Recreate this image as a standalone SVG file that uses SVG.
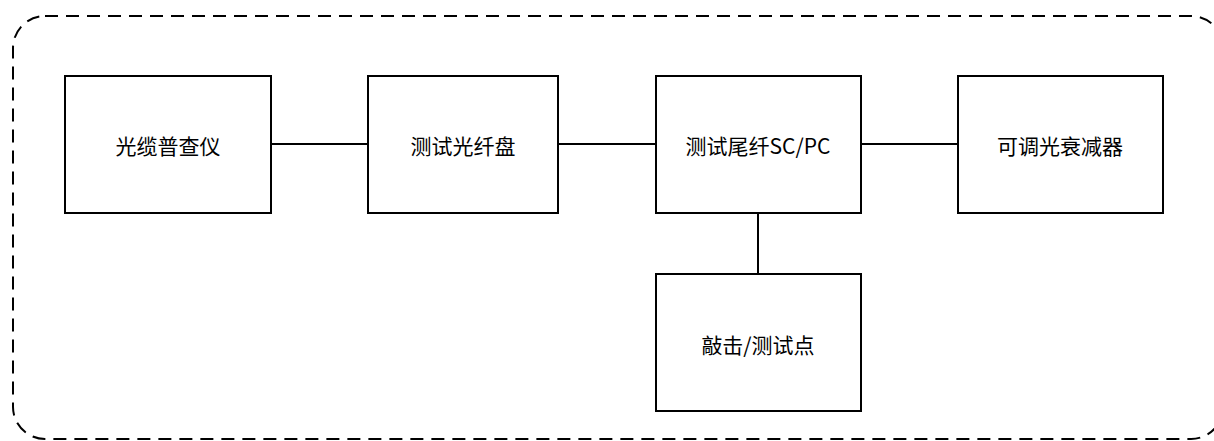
<svg xmlns="http://www.w3.org/2000/svg" width="1214" height="441" viewBox="0 0 1214 441">
<style>
.box{fill:#fff;stroke:#000;stroke-width:2}
.lbl{font-family:"Noto Sans CJK SC","Noto Sans",sans-serif;font-size:21px;fill:#000;text-anchor:middle;dominant-baseline:central}
.conn{stroke:#000;stroke-width:2;fill:none}
.frame{fill:none;stroke:#000;stroke-width:2;stroke-dasharray:13 8}
</style>
<rect width="1214" height="441" fill="#fff"/>
<rect id="frame" class="frame" x="13" y="16" width="1210" height="423" rx="32" ry="32"/>
<g id="connectors">
<line class="conn" x1="271" y1="144" x2="368" y2="144"/>
<line class="conn" x1="558" y1="144" x2="656" y2="144"/>
<line class="conn" x1="861" y1="144" x2="958" y2="144"/>
<line class="conn" x1="758" y1="213" x2="758" y2="274"/>
</g>
<g id="n1"><rect class="box" x="65" y="76" width="206" height="137"/><text class="lbl" x="168" y="145">光缆普查仪</text></g>
<g id="n2"><rect class="box" x="368" y="76" width="190" height="137"/><text class="lbl" x="463" y="145">测试光纤盘</text></g>
<g id="n3"><rect class="box" x="656" y="76" width="205" height="137"/><text class="lbl" x="758" y="145">测试尾纤SC/PC</text></g>
<g id="n4"><rect class="box" x="958" y="76" width="205" height="137"/><text class="lbl" x="1060" y="145">可调光衰减器</text></g>
<g id="n5"><rect class="box" x="656" y="274" width="205" height="137"/><text class="lbl" x="758" y="344">敲击/测试点</text></g>
</svg>
